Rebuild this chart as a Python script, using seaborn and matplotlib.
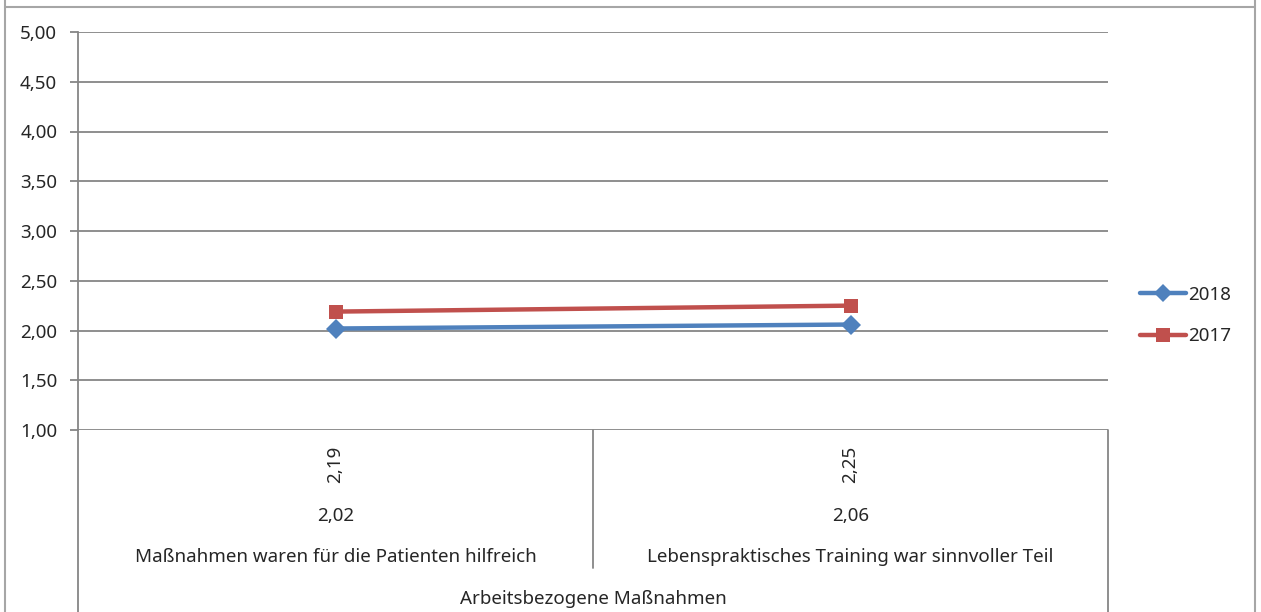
import matplotlib
matplotlib.use("Agg")
import matplotlib.pyplot as plt
from matplotlib.lines import Line2D
import pandas as pd
import seaborn as sns

# Survey items (2 categories in one group) and mean ratings per year
group_label = "Arbeitsbezogene Maßnahmen"
categories = ["Maßnahmen waren für die Patienten hilfreich",
              "Lebenspraktisches Training war sinnvoller Teil"]
series_names = ["2018", "2017"]
values_2018 = [2.02, 2.06]
values_2017 = [2.19, 2.25]
y_ticks = [1.0, 1.5, 2.0, 2.5, 3.0, 3.5, 4.0, 4.5, 5.0]

colors = {"2018": "#4F81BD", "2017": "#C0504D"}
markers = {"2018": "D", "2017": "s"}
grid_col = "#868686"
border_col = "#A6A6A6"

df = pd.DataFrame({
    "pos": list(range(len(categories))) * 2,
    "Kategorie": categories * 2,
    "Jahr": ["2018"] * len(categories) + ["2017"] * len(categories),
    "Wert": values_2018 + values_2017,
})

sns.set_theme(style="white")
plt.rcParams["font.family"] = ["Noto Sans", "DejaVu Sans"]
FS = 13.5

W, H, DPI = 1261, 612, 100
fig = plt.figure(figsize=(W / DPI, H / DPI), dpi=DPI)
left, right, top, bottom = 78, 1108, 32, 430
ax = fig.add_axes([left / W, 1 - bottom / H, (right - left) / W, (bottom - top) / H])

# gridlines
for t in y_ticks:
    ax.axhline(t, color=grid_col, lw=1.3, zorder=0)

sns.lineplot(data=df, x="pos", y="Wert", hue="Jahr", style="Jahr",
             hue_order=series_names, style_order=series_names,
             palette=colors, markers=markers, dashes=False,
             lw=3.2, markersize=10, markeredgewidth=0,
             legend=False, ax=ax, zorder=3)

ax.set_xlim(-0.5, len(categories) - 0.5)
ax.set_ylim(1.0, 5.0)
ax.set_yticks(y_ticks)
ax.set_yticklabels([f"{t:.2f}".replace(".", ",") for t in y_ticks], fontsize=FS)
ax.set_xticks([])
ax.set_xlabel("")
ax.set_ylabel("")
for s in ["top", "right", "bottom"]:
    ax.spines[s].set_visible(False)
ax.spines["left"].set_color(grid_col)
ax.spines["left"].set_linewidth(1.3)
ax.tick_params(axis="y", length=6, width=1.3, color=grid_col, pad=9, left=True)

# data table under the axis
to_ax = lambda py: (bottom - py) / (bottom - top)
xform = ax.get_xaxis_transform()
line_kw = dict(color=grid_col, lw=1.3, transform=xform, clip_on=False)
ax.add_line(Line2D([-0.5, -0.5], [0, to_ax(H)], **line_kw))
ax.add_line(Line2D([len(categories) - 0.5] * 2, [0, to_ax(H)], **line_kw))
for i in range(1, len(categories)):
    ax.add_line(Line2D([i - 0.5, i - 0.5], [0, to_ax(568)], **line_kw))

fmt = lambda v: f"{v:.2f}".replace(".", ",")
for i, cat in enumerate(categories):
    ax.text(i, to_ax(464), fmt(values_2017[i]), rotation=90, ha="center",
            va="center", fontsize=FS, transform=xform)
    ax.text(i, to_ax(516), fmt(values_2018[i]), ha="center", va="center",
            fontsize=FS, transform=xform)
    ax.text(i, to_ax(556.5), cat, ha="center", va="center", fontsize=FS,
            transform=xform)
ax.text((len(categories) - 1) / 2, to_ax(598.5), group_label, ha="center",
        va="center", fontsize=FS, transform=xform)

# legend
handles = [Line2D([], [], color=colors[n], marker=markers[n], lw=3.2,
                  markersize=10 if n == "2017" else 9, markeredgewidth=0)
           for n in series_names]
fig.legend(handles, series_names, loc="center left",
           bbox_to_anchor=(1132 / W, 1 - 315.5 / H), frameon=False,
           fontsize=FS, handlelength=2.5, handletextpad=0.1,
           labelspacing=1.25, borderaxespad=0)

# chart frame
fig.add_artist(Line2D([5 / W, 5 / W], [0, 1], color=border_col, lw=1.5))
fig.add_artist(Line2D([1255 / W, 1255 / W], [0, 1], color=border_col, lw=1.5))
fig.add_artist(Line2D([5 / W, 1255 / W], [1 - 7 / H] * 2, color=border_col, lw=1.5))

fig.savefig("out.png", dpi=DPI, facecolor="white")
